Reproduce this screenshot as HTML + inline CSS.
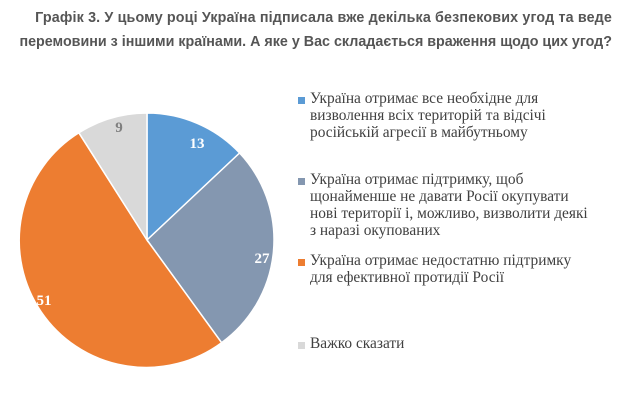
<!DOCTYPE html>
<html><head><meta charset="utf-8"><style>
body{margin:0;background:#fff;width:637px;height:406px;overflow:hidden;position:relative;font-family:"Liberation Sans",sans-serif}
.t{position:absolute;left:0;width:637px;text-align:right;font-weight:bold;font-size:14.3px;color:#555;padding-right:25px;box-sizing:border-box;white-space:nowrap}
.lg{position:absolute;left:310px;font-family:"Liberation Serif",serif;font-size:15.4px;color:#404040;line-height:17px;white-space:nowrap}
.m{position:absolute;left:298px;width:7px;height:7px}
</style></head><body>
<div class="t" style="top:10px;letter-spacing:0.15px">Графік 3. У цьому році Україна підписала вже декілька безпекових угод та веде</div>
<div class="t" style="top:34px">перемовини з іншими країнами. А яке у Вас складається враження щодо цих угод?</div>
<svg width="637" height="406" style="position:absolute;left:0;top:0">
<g stroke="#fff" stroke-width="1.5">
<path d="M147,240 L147,113 A127,127 0 0 1 239.6,153 Z" fill="#5b9bd5"/>
<path d="M147,240 L239.6,153 A127,127 0 0 1 221.6,342.7 Z" fill="#8497b0"/>
<path d="M147,240 L221.6,342.7 A127,127 0 1 1 78.9,132.8 Z" fill="#ed7d31"/>
<path d="M147,240 L78.9,132.8 A127,127 0 0 1 147,113 Z" fill="#d9d9d9"/>
</g>
<g font-family="Liberation Serif,serif" font-weight="bold" font-size="15" text-anchor="middle">
<text x="197" y="148" fill="#fff">13</text>
<text x="262" y="263" fill="#fff">27</text>
<text x="44" y="305" fill="#fff">51</text>
<text x="119" y="132" fill="#7f7f7f">9</text>
</g>
</svg>
<div class="m" style="top:97px;background:#5b9bd5"></div>
<div class="lg" style="top:90px">Україна отримає все необхідне для<br>визволення всіх територій та відсічі<br>російській агресії в майбутньому</div>
<div class="m" style="top:178px;background:#8497b0"></div>
<div class="lg" style="top:171px">Україна отримає підтримку, щоб<br>щонайменше не давати Росії окупувати<br>нові території і, можливо, визволити деякі<br>з наразі окупованих</div>
<div class="m" style="top:259px;background:#ed7d31"></div>
<div class="lg" style="top:252px">Україна отримає недостатню підтримку<br>для ефективної протидії Росії</div>
<div class="m" style="top:342px;background:#d9d9d9"></div>
<div class="lg" style="top:335px">Важко сказати</div>
</body></html>
